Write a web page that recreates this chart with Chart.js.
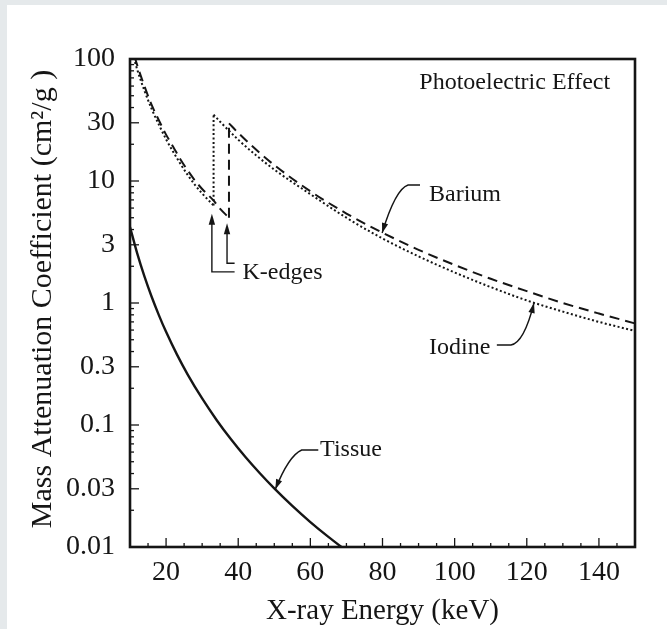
<!DOCTYPE html>
<html><head><meta charset="utf-8">
<script src="https://cdn.jsdelivr.net/npm/chart.js@4/dist/chart.umd.min.js"></script>
<style>html,body{margin:0;padding:0;background:#fff;overflow:hidden}</style>
</head><body>
<canvas id="c" width="667" height="629"></canvas>
<script>
// ---------- data ----------
const xTickValues = [20, 40, 60, 80, 100, 120, 140];
const yTickValues = [0.01, 0.03, 0.1, 0.3, 1, 3, 10, 30, 100];
const yTickLabels = ['0.01', '0.03', '0.1', '0.3', '1', '3', '10', '30', '100'];

const energyTissue = [10, 12, 14, 16, 18, 20, 23, 26, 30, 34, 38, 42, 46, 50, 55, 60, 65, 72];
const tissue       = [4.2, 2.55, 1.65, 1.125, 0.796, 0.58, 0.379, 0.259, 0.165, 0.110, 0.0763, 0.0546, 0.0402, 0.0302, 0.0217, 0.0160, 0.0121, 0.0084];

const energyIodineLow  = [10, 12, 14, 16, 18, 20, 22, 24, 26, 28, 30, 33.17];
const iodineLow        = [130, 82, 55, 39, 29, 22, 17.3, 13.8, 11.2, 9.3, 7.9, 6.3];
const energyIodineHigh = [33.17, 35, 40, 45, 50, 60, 70, 80, 90, 100, 110, 120, 130, 140, 150];
const iodineHigh       = [35, 30.6, 21.8, 16.2, 12.4, 7.8, 5.0, 3.38, 2.41, 1.78, 1.35, 1.05, 0.85, 0.70, 0.59];

const energyBariumLow  = [10, 12, 14, 16, 18, 20, 22, 24, 26, 28, 30, 33, 35, 37.44];
const bariumLow        = [140, 89, 60, 42, 31.5, 24, 19, 15, 12.2, 10.1, 8.6, 7.0, 5.9, 5.0];
const energyBariumHigh = [37.44, 40, 45, 50, 60, 70, 80, 90, 100, 110, 120, 130, 140, 150];
const bariumHigh       = [29.7, 24.8, 18.0, 13.5, 8.24, 5.41, 3.77, 2.73, 2.05, 1.58, 1.25, 1.00, 0.82, 0.68];

const xTitle = 'X-ray Energy (keV)';
const yTitle = 'Mass Attenuation Coefficient (cm\u00B2/g )';
const chartLabel = 'Photoelectric Effect';

// ---------- helpers ----------
const INK = '#151515';
const SERIF = '"Liberation Serif", "Times New Roman", serif';
const pts = (xs, ys) => xs.map((x, i) => ({x, y: ys[i]}));
const edge = (xs1, ys1, ys2) => [{x: xs1[xs1.length - 1], y: ys1[ys1.length - 1]}, {x: xs1[xs1.length - 1], y: ys2[0]}];

const base = {borderColor: INK, pointRadius: 0, fill: false, cubicInterpolationMode: 'monotone'};
const DOT = [2, 2.4], DASH = [10, 6];
const datasets = [
  {...base, label: 'Tissue', data: pts(energyTissue, tissue), borderWidth: 2.4},
  {...base, label: 'Iodine', data: pts(energyIodineLow, iodineLow), borderWidth: 2, borderDash: DOT},
  {...base, label: 'Iodine edge', data: edge(energyIodineLow, iodineLow, iodineHigh), borderWidth: 2, borderDash: DOT, cubicInterpolationMode: 'default', tension: 0},
  {...base, label: 'Iodine', data: pts(energyIodineHigh, iodineHigh), borderWidth: 2, borderDash: DOT},
  {...base, label: 'Barium', data: pts(energyBariumLow, bariumLow), borderWidth: 2, borderDash: DASH},
  {...base, label: 'Barium edge', data: edge(energyBariumLow, bariumLow, bariumHigh), borderWidth: 2, borderDash: DASH, cubicInterpolationMode: 'default', tension: 0},
  {...base, label: 'Barium', data: pts(energyBariumHigh, bariumHigh), borderWidth: 2, borderDash: DASH}
];

// annotation anchors in data units (keV, cm²/g)
const notes = [
  {text: chartLabel, x: 143.1, y: 63.6, align: 'right'},
  {text: 'Barium', x: 92.9, y: 7.67, align: 'left'},
  {text: 'Iodine', x: 92.9, y: 0.428, align: 'left'},
  {text: 'Tissue', x: 62.7, y: 0.0624, align: 'left'},
  {text: 'K-edges', x: 41.2, y: 1.77, align: 'left'}
];
// leader lines: horizontal stub, then a curve ending in an arrow tip
const leaders = [
  {stub: [[90.4, 9.27], [87.1, 9.27]], ctrl: [83.6, 8.6], tip: [79.9, 3.75]},
  {stub: [[111.7, 0.453], [115.6, 0.453]], ctrl: [119.2, 0.47], tip: [122.0, 1.0]},
  {stub: [[62.2, 0.0624], [57.6, 0.0624]], ctrl: [54.0, 0.056], tip: [50.3, 0.0297]}
];
const kEdgeArrows = [
  {tip: [32.7, 5.4], corner: [32.7, 1.80], end: [39.0, 1.80]},
  {tip: [36.9, 4.5], corner: [36.9, 2.12], end: [39.0, 2.12]}
];

function arrowHead(ctx, fx, fy, tx, ty, len, half) {
  const ang = Math.atan2(ty - fy, tx - fx);
  ctx.beginPath();
  ctx.moveTo(tx, ty);
  ctx.lineTo(tx - len * Math.cos(ang) + half * Math.sin(ang), ty - len * Math.sin(ang) - half * Math.cos(ang));
  ctx.lineTo(tx - len * Math.cos(ang) - half * Math.sin(ang), ty - len * Math.sin(ang) + half * Math.cos(ang));
  ctx.closePath();
  ctx.fill();
}

const decor = {
  id: 'decor',
  beforeDraw(chart) {
    const ctx = chart.ctx;
    ctx.save();
    ctx.fillStyle = '#e5e9eb';
    ctx.fillRect(0, 0, chart.width, chart.height);
    ctx.fillStyle = '#ffffff';
    ctx.fillRect(7, 5, chart.width - 7, chart.height - 5);
    ctx.restore();
  },
  afterDraw(chart) {
    const {ctx, chartArea: a, scales: {x, y}} = chart;
    const X = v => x.getPixelForValue(v), Y = v => y.getPixelForValue(v);
    ctx.save();
    ctx.strokeStyle = INK; ctx.fillStyle = INK;
    // inward ticks
    ctx.lineWidth = 1.3;
    for (let v = 15; v < 150; v += 5) {
      const len = v % 20 === 0 ? 9 : 4;
      ctx.beginPath(); ctx.moveTo(X(v), a.bottom); ctx.lineTo(X(v), a.bottom - len); ctx.stroke();
    }
    for (let d = -2; d < 2; d++) {
      for (let m = 1; m < 10; m++) {
        const v = m * Math.pow(10, d);
        const len = (m === 1 || m === 3) ? 9 : 4;
        ctx.beginPath(); ctx.moveTo(a.left, Y(v)); ctx.lineTo(a.left + len, Y(v)); ctx.stroke();
      }
    }
    // frame
    ctx.lineWidth = 2.6;
    ctx.strokeRect(a.left, a.top, a.right - a.left, a.bottom - a.top);
    // axis titles
    ctx.textAlign = 'center'; ctx.textBaseline = 'middle';
    ctx.font = '29px ' + SERIF;
    ctx.fillText(xTitle, (a.left + a.right) / 2, a.bottom + 64);
    ctx.save();
    ctx.font = '30px ' + SERIF;
    ctx.translate(43, (a.top + a.bottom) / 2 - 4);
    ctx.rotate(-Math.PI / 2);
    ctx.fillText(yTitle, 0, 0);
    ctx.restore();
    // notes
    ctx.font = '24px ' + SERIF;
    ctx.textBaseline = 'middle';
    notes.forEach(n => { ctx.textAlign = n.align; ctx.fillText(n.text, X(n.x), Y(n.y)); });
    // leaders
    ctx.lineWidth = 1.4;
    leaders.forEach(l => {
      ctx.beginPath();
      ctx.moveTo(X(l.stub[0][0]), Y(l.stub[0][1]));
      ctx.lineTo(X(l.stub[1][0]), Y(l.stub[1][1]));
      ctx.quadraticCurveTo(X(l.ctrl[0]), Y(l.ctrl[1]), X(l.tip[0]), Y(l.tip[1]));
      ctx.stroke();
      arrowHead(ctx, X(l.ctrl[0]), Y(l.ctrl[1]), X(l.tip[0]), Y(l.tip[1]), 10, 3.2);
    });
    kEdgeArrows.forEach(k => {
      ctx.beginPath();
      ctx.moveTo(X(k.end[0]), Y(k.end[1]));
      ctx.lineTo(X(k.corner[0]), Y(k.corner[1]));
      ctx.lineTo(X(k.tip[0]), Y(k.tip[1]) + 4);
      ctx.stroke();
      arrowHead(ctx, X(k.tip[0]), Y(k.corner[1]), X(k.tip[0]), Y(k.tip[1]), 11, 3.2);
    });
    ctx.restore();
  }
};

new Chart(document.getElementById('c'), {
  type: 'line',
  data: {datasets},
  options: {
    responsive: false,
    animation: false,
    events: [],
    layout: {padding: {left: 0, top: 59, right: 32, bottom: 0}},
    plugins: {legend: {display: false}, tooltip: {enabled: false}},
    scales: {
      x: {
        type: 'linear', min: 10, max: 150,
        grid: {display: false}, border: {display: false},
        afterBuildTicks: s => { s.ticks = xTickValues.map(v => ({value: v})); },
        afterFit: s => { s.height = 82; },
        ticks: {font: {family: SERIF, size: 28}, color: INK, padding: 1, maxRotation: 0, autoSkip: false, callback: v => String(v)}
      },
      y: {
        type: 'logarithmic', min: 0.01, max: 100,
        grid: {display: false}, border: {display: false},
        afterBuildTicks: s => { s.ticks = yTickValues.map(v => ({value: v})); },
        afterFit: s => { s.width = 130; },
        ticks: {font: {family: SERIF, size: 28}, color: INK, padding: 7, autoSkip: false, callback: (v, i) => yTickLabels[i]}
      }
    }
  },
  plugins: [decor]
});
</script>
</body></html>
